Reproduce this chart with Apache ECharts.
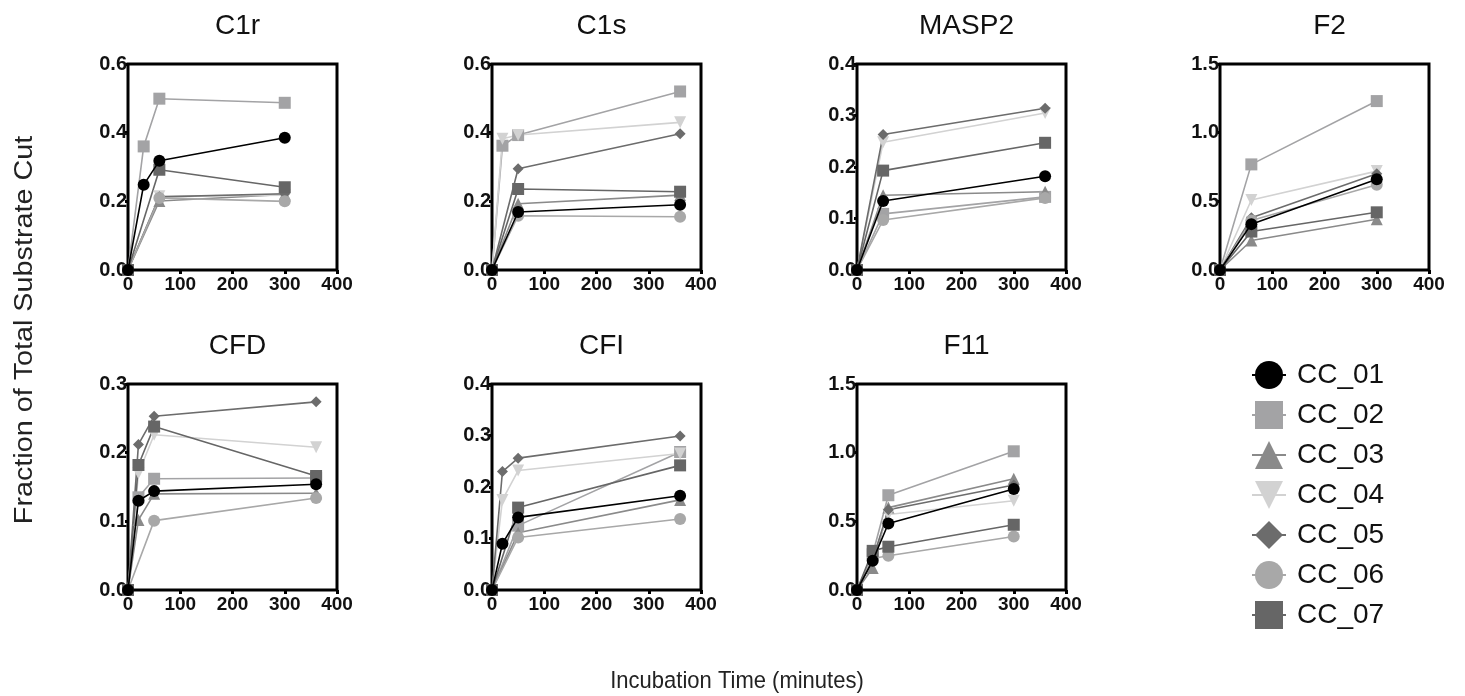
<!DOCTYPE html>
<html>
<head>
<meta charset="utf-8">
<script src="https://cdn.jsdelivr.net/npm/echarts@6/dist/echarts.min.js"></script>
<style>
  html, body { margin: 0; padding: 0; background: #fff; }
  #chart { width: 1465px; height: 696px; }
</style>
</head>
<body>
<div id="chart"></div>
<script>
// series (donors)
var seriesNames = ["CC_01", "CC_02", "CC_03", "CC_04", "CC_05", "CC_06", "CC_07"];
var panelTitles = ["C1r", "C1s", "MASP2", "F2", "CFD", "CFI", "F11"];
var yMax = [0.6, 0.6, 0.4, 1.5, 0.3, 0.4, 1.5];
var yStep = [0.2, 0.2, 0.1, 0.5, 0.1, 0.1, 0.5];

// time points (minutes) per substrate
var c1rTimes = [0, 30, 60, 300];
var c1sTimes = [0, 20, 50, 360];
var masp2Times = [0, 50, 360];
var f2Times = [0, 60, 300];
var cfdTimes = [0, 20, 50, 360];
var cfiTimes = [0, 20, 50, 360];
var f11Times = [0, 30, 60, 300];

// fraction cut, rows = CC_01..CC_07 (null = not measured)
var c1rValues = [
  [0, 0.248, 0.318, 0.385],
  [0, 0.36, 0.499, 0.487],
  [0, null, 0.201, 0.22],
  [0, null, 0.215, 0.218],
  [0, null, 0.213, 0.222],
  [0, null, 0.21, 0.2],
  [0, null, 0.292, 0.241]
];
var c1sValues = [
  [0, null, 0.169, 0.19],
  [0, 0.362, 0.393, 0.52],
  [0, null, 0.193, 0.218],
  [0, 0.382, 0.393, 0.43],
  [0, null, 0.295, 0.397],
  [0, null, 0.158, 0.155],
  [0, null, 0.236, 0.228]
];
var masp2Values = [
  [0, 0.134, 0.182],
  [0, 0.109, 0.142],
  [0, 0.145, 0.152],
  [0, 0.248, 0.305],
  [0, 0.263, 0.314],
  [0, 0.097, 0.14],
  [0, 0.193, 0.247]
];
var f2Values = [
  [0, 0.334, 0.66],
  [0, 0.769, 1.23],
  [0, 0.215, 0.37],
  [0, 0.51, 0.72],
  [0, 0.38, 0.7],
  [0, 0.36, 0.62],
  [0, 0.28, 0.42]
];
var cfdValues = [
  [0, 0.13, 0.144, 0.154],
  [0, 0.135, 0.162, 0.163],
  [0, 0.102, 0.14, 0.141],
  [0, 0.17, 0.226, 0.208],
  [0, 0.212, 0.253, 0.274],
  [0, null, 0.101, 0.134],
  [0, 0.182, 0.238, 0.166]
];
var cfiValues = [
  [0, 0.09, 0.141, 0.183],
  [0, null, 0.125, 0.268],
  [0, null, 0.111, 0.175],
  [0, 0.175, 0.232, 0.265],
  [0, 0.23, 0.256, 0.299],
  [0, null, 0.102, 0.138],
  [0, null, 0.16, 0.242]
];
var f11Values = [
  [0, 0.213, 0.484, 0.735],
  [0, 0.26, 0.69, 1.01],
  [0, 0.16, 0.6, 0.81],
  [0, 0.24, 0.55, 0.65],
  [0, 0.22, 0.585, 0.765],
  [0, 0.23, 0.25, 0.39],
  [0, 0.285, 0.315, 0.475]
];

var panelTimes = [c1rTimes, c1sTimes, masp2Times, f2Times, cfdTimes, cfiTimes, f11Times];
var panelValues = [c1rValues, c1sValues, masp2Values, f2Values, cfdValues, cfiValues, f11Values];

var colors = ["#000000", "#a3a3a5", "#8a8a8a", "#d2d2d2", "#6c6c6c", "#a8a8a8", "#666666"];
var symbols = ["circle", "rect", "triangle", "path://M0,0 L10,0 L5,9 Z", "diamond", "circle", "rect"];
var symbolSizes = [12, 12, 12, 12, 11, 12, 12];

var FONT = "Liberation Sans, Arial, sans-serif";
var colLeft = [128, 492, 857, 1220];
var rowTop = [64, 384];
var boxW = 209, boxH = 206;

var chart = echarts.init(document.getElementById("chart"));

var grids = [], xAxes = [], yAxes = [], titles = [], series = [];
panelTitles.forEach(function (name, p) {
  var left = colLeft[p % 4];
  var top = rowTop[p < 4 ? 0 : 1];
  grids.push({
    left: left, top: top, width: boxW, height: boxH,
    show: true, borderColor: "#000", borderWidth: 3, backgroundColor: "transparent"
  });
  titles.push({
    text: name, left: left + boxW / 2, top: top - 57, textAlign: "center",
    textStyle: { fontFamily: FONT, fontSize: 28, fontWeight: "normal", color: "#111" }
  });
  xAxes.push({
    type: "value", gridIndex: p, min: 0, max: 400, interval: 100,
    axisLine: { show: false },
    axisTick: { show: true, length: 4, lineStyle: { color: "#000", width: 3 } },
    splitLine: { show: false },
    axisLabel: { margin: 5, fontFamily: FONT, fontSize: 19, fontWeight: "bold", color: "#111" }
  });
  yAxes.push({
    type: "value", gridIndex: p, min: 0, max: yMax[p], interval: yStep[p],
    axisLine: { show: false },
    axisTick: { show: true, length: 3, lineStyle: { color: "#000", width: 3 } },
    splitLine: { show: false },
    axisLabel: {
      margin: 1, fontFamily: FONT, fontSize: 20, fontWeight: "bold", color: "#111",
      formatter: function (v) { return v.toFixed(1); }
    }
  });
  seriesNames.forEach(function (sName, s) {
    var pts = [];
    panelTimes[p].forEach(function (t, k) {
      var v = panelValues[p][s][k];
      if (v !== null) pts.push([t, v]);
    });
    series.push({
      name: sName, type: "line", xAxisIndex: p, yAxisIndex: p,
      data: pts, clip: false, z: s === 0 ? 4 : 2,
      symbol: symbols[s], symbolSize: symbolSizes[s], showSymbol: true,
      itemStyle: { color: colors[s] },
      lineStyle: { color: colors[s], width: 1.6 },
      emphasis: { disabled: true },
      animation: false
    });
  });
});

var option = {
  animation: false,
  title: titles,
  grid: grids,
  xAxis: xAxes,
  yAxis: yAxes,
  series: series,
  legend: {
    data: seriesNames,
    orient: "vertical",
    left: 1246, top: 356,
    itemWidth: 34, itemHeight: 35, itemGap: 12,
    textStyle: { fontFamily: FONT, fontSize: 28, color: "#111", padding: [0, 0, 0, 6] },
    selectedMode: false
  },
  graphic: [
    {
      type: "text", x: 25, y: 330, rotation: Math.PI / 2, scaleX: 1.15,
      style: {
        text: "Fraction of Total Substrate Cut", font: "25px " + FONT, fill: "#222",
        align: "center", verticalAlign: "middle"
      }
    },
    {
      type: "text", x: 737, y: 681, scaleY: 1.12,
      style: {
        text: "Incubation Time (minutes)", font: "22px " + FONT, fill: "#222",
        align: "center", verticalAlign: "middle"
      }
    }
  ]
};

chart.setOption(option);
</script>
</body>
</html>
